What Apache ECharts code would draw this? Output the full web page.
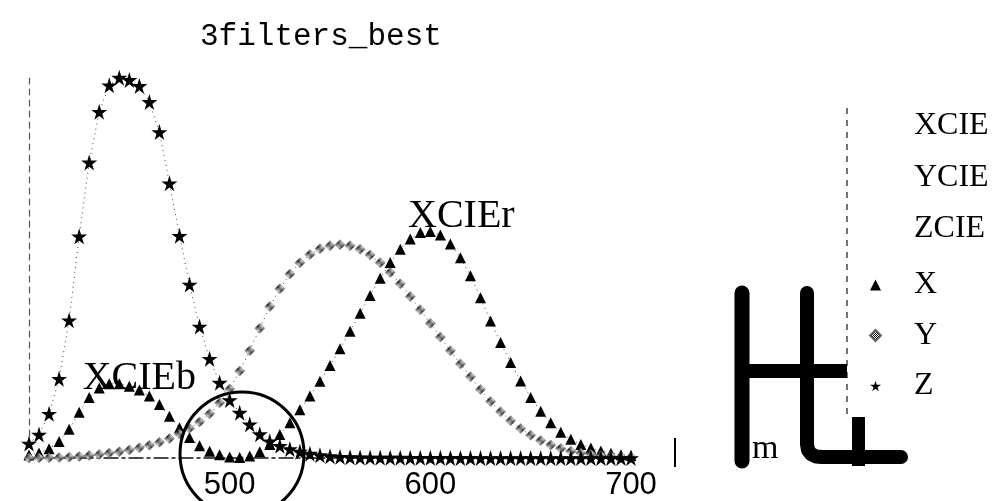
<!DOCTYPE html>
<html>
<head>
<meta charset="utf-8">
<script src="https://cdn.jsdelivr.net/npm/echarts@6/dist/echarts.min.js"></script>
<style>
  html, body { margin: 0; padding: 0; background: #fff; }
  #chart { width: 993px; height: 501px; }
</style>
</head>
<body>
<div id="chart"></div>
<script>
// Wavelengths (nm), 5 nm steps
const wavelengths = [
  400, 405, 410, 415, 420, 425, 430, 435, 440, 445,
  450, 455, 460, 465, 470, 475, 480, 485, 490, 495,
  500, 505, 510, 515, 520, 525, 530, 535, 540, 545,
  550, 555, 560, 565, 570, 575, 580, 585, 590, 595,
  600, 605, 610, 615, 620, 625, 630, 635, 640, 645,
  650, 655, 660, 665, 670, 675, 680, 685, 690, 695, 700
];

// Colour matching functions
const xValues = [
  0.0143, 0.0232, 0.0435, 0.0776, 0.1344, 0.2148, 0.2839, 0.3285, 0.3483, 0.3481,
  0.3362, 0.3187, 0.2908, 0.2511, 0.1954, 0.1421, 0.0956, 0.0580, 0.0320, 0.0147,
  0.0049, 0.0024, 0.0093, 0.0291, 0.0633, 0.1096, 0.1655, 0.2258, 0.2904, 0.3597,
  0.4335, 0.5121, 0.5945, 0.6784, 0.7621, 0.8425, 0.9163, 0.9786, 1.0263, 1.0567,
  1.0622, 1.0456, 1.0026, 0.9384, 0.8545, 0.7514, 0.6424, 0.5419, 0.4479, 0.3608,
  0.2835, 0.2187, 0.1649, 0.1212, 0.0874, 0.0636, 0.0468, 0.0329, 0.0227, 0.0158, 0.0114
];
const yValues = [
  0.0004, 0.0006, 0.0012, 0.0022, 0.0040, 0.0073, 0.0116, 0.0168, 0.0230, 0.0298,
  0.0380, 0.0480, 0.0600, 0.0739, 0.0910, 0.1126, 0.1390, 0.1693, 0.2080, 0.2586,
  0.3230, 0.4073, 0.5030, 0.6082, 0.7100, 0.7932, 0.8620, 0.9149, 0.9540, 0.9803,
  0.9950, 1.0000, 0.9950, 0.9786, 0.9520, 0.9154, 0.8700, 0.8163, 0.7570, 0.6949,
  0.6310, 0.5668, 0.5030, 0.4412, 0.3810, 0.3210, 0.2650, 0.2170, 0.1750, 0.1382,
  0.1070, 0.0816, 0.0610, 0.0446, 0.0320, 0.0232, 0.0170, 0.0119, 0.0082, 0.0057, 0.0041
];
const zValues = [
  0.0679, 0.1102, 0.2074, 0.3713, 0.6456, 1.0391, 1.3856, 1.6230, 1.7471, 1.7826,
  1.7721, 1.7441, 1.6692, 1.5281, 1.2876, 1.0419, 0.8130, 0.6162, 0.4652, 0.3533,
  0.2720, 0.2123, 0.1582, 0.1117, 0.0782, 0.0573, 0.0422, 0.0298, 0.0203, 0.0134,
  0.0087, 0.0057, 0.0039, 0.0028, 0.0021, 0.0018, 0.0017, 0.0014, 0.0011, 0.0010,
  0.0008, 0.0006, 0.0003, 0.0002, 0.0002, 0.0001, 0.0001, 0.0000, 0.0000, 0.0000,
  0.0000, 0.0000, 0.0000, 0.0000, 0.0000, 0.0000, 0.0000, 0.0000, 0.0000, 0.0000, 0.0000
];

const curveNames = ['XCIE', 'YCIE', 'ZCIE'];
const markerNames = ['X', 'Y', 'Z'];
const xTicks = [500, 600, 700];
const chartTitle = '3filters_best';
const lobeLabels = [
  { text: 'XCIEb', wl: 445 },
  { text: 'XCIEr', wl: 600 }
];

const SERIF = '"Liberation Serif", "DejaVu Serif", serif';
const STAR = 'path://M50,0 L61,35 L98,35 L68,57 L79,91 L50,70 L21,91 L32,57 L2,35 L39,35 Z';

// 1-px checker used as a dithered grey fill for the Y markers
const dots = document.createElement('canvas');
dots.width = 2; dots.height = 2;
const g = dots.getContext('2d');
g.fillStyle = '#fff'; g.fillRect(0, 0, 2, 2);
g.fillStyle = '#000'; g.fillRect(0, 0, 1, 1); g.fillRect(1, 1, 1, 1);
const ditherFill = { image: dots, repeat: 'repeat' };

const pairs = vals => wavelengths.map((w, i) => [w, vals[i]]);
const valueAt = (vals, wl) => vals[wavelengths.indexOf(wl)];

const curveData = [xValues, yValues, zValues];

const curveSeries = curveNames.map((name, k) => ({
  name, type: 'line', data: pairs(curveData[k]),
  symbol: 'none', silent: true, z: 2,
  lineStyle: { color: '#444', width: 1, type: [1, 4] }
}));

const markerStyles = [
  { symbol: 'triangle', symbolSize: 11, color: '#000', border: 0 },
  { symbol: 'diamond', symbolSize: 10, color: ditherFill, border: 0.5 },
  { symbol: STAR, symbolSize: 16, color: '#000', border: 0 }
];

const markerSeries = markerNames.map((name, k) => {
  const st = markerStyles[k];
  const s = {
    name, type: 'scatter', data: pairs(curveData[k]),
    symbol: st.symbol, symbolSize: st.symbolSize,
    itemStyle: { color: st.color, opacity: 1, borderColor: '#666', borderWidth: st.border }, z: 3
  };
  if (name === 'X') {
    const offsets = [[20, -5], [31, -15]];
    s.markPoint = {
      symbol: 'circle', symbolSize: 1, itemStyle: { color: 'rgba(0,0,0,0)' },
      data: lobeLabels.map((l, i) => ({
        coord: [l.wl, valueAt(xValues, l.wl)],
        label: {
          show: true, position: 'inside', offset: offsets[i],
          formatter: l.text, fontFamily: SERIF, fontSize: 40, color: '#000'
        }
      }))
    };
  }
  return s;
});

const chart = echarts.init(document.getElementById('chart'), null, { renderer: 'canvas' });

chart.setOption({
  backgroundColor: '#fff',
  animation: false,
  title: {
    text: chartTitle, left: 195, top: 16,
    textStyle: { fontFamily: '"Liberation Mono", monospace', fontSize: 31, fontWeight: 'normal', color: '#000' }
  },
  legend: [
    {
      data: curveNames, orient: 'vertical', left: 883, top: 110, padding: 0,
      itemWidth: 25, itemHeight: 14, itemGap: 19.5,
      itemStyle: { opacity: 0 }, lineStyle: { opacity: 0 },
      textStyle: { fontFamily: SERIF, fontSize: 32, lineHeight: 32, color: '#000' }
    },
    {
      data: markerNames, orient: 'vertical', left: 869, top: 269, padding: 0,
      itemWidth: 11, itemHeight: 11, itemGap: 18.5, symbolKeepAspect: true,
      textStyle: { fontFamily: SERIF, fontSize: 32, lineHeight: 32, color: '#000', padding: [0, 0, 0, 28] }
    }
  ],
  grid: { left: 29, right: 362, top: 74, bottom: 42, containLabel: false },
  xAxis: {
    type: 'value', min: 400, max: 700, interval: 100,
    axisLine: { show: true, lineStyle: { color: '#111', width: 1.5, type: [14, 4, 3, 4] } },
    axisTick: { show: false },
    splitLine: { show: false },
    axisLabel: {
      showMinLabel: false, margin: 12,
      formatter: v => (xTicks.indexOf(v) >= 0 ? String(v) : ''),
      fontFamily: '"Liberation Sans", sans-serif', fontSize: 31, color: '#000'
    }
  },
  yAxis: {
    type: 'value', min: 0, max: 1.8,
    axisLine: { show: true, lineStyle: { color: '#555', width: 1.2, type: [6, 5] } },
    axisTick: { show: false },
    axisLabel: { show: false },
    splitLine: { show: false }
  },
  series: [...curveSeries, ...markerSeries],
  graphic: [
    // pen circle drawn over the 500 nm region
    { type: 'circle', shape: { cx: 242, cy: 454, r: 62 }, style: { fill: null, stroke: '#000', lineWidth: 3 }, z: 50 },
    // visible tail of the unit text beside the pen strokes
    { type: 'text', x: 752, y: 466, style: { text: 'm', font: '34px ' + SERIF, fill: '#000', align: 'left', verticalAlign: 'bottom' }, z: 40 },
    // dashed frame edge beside the legend
    { type: 'line', shape: { x1: 847, y1: 108, x2: 847, y2: 418 }, style: { stroke: '#444', lineWidth: 1.5, lineDash: [6, 6] }, z: 40 },
    // thick pen strokes
    { type: 'line', shape: { x1: 742, y1: 293, x2: 742, y2: 461 }, style: { stroke: '#000', lineWidth: 15, lineCap: 'round' }, z: 50 },
    { type: 'polyline', shape: { points: [[807, 293], [807, 444], [808, 450], [811, 454], [816, 456.5], [822, 457], [901, 457]] }, style: { fill: null, stroke: '#000', lineWidth: 14, lineCap: 'round', lineJoin: 'round' }, z: 50 },
    { type: 'rect', shape: { x: 742, y: 364, width: 105, height: 14 }, style: { fill: '#000' }, z: 50 },
    { type: 'rect', shape: { x: 852, y: 417, width: 13, height: 49 }, style: { fill: '#000' }, z: 50 },
    { type: 'line', shape: { x1: 675, y1: 438, x2: 675, y2: 467 }, style: { stroke: '#000', lineWidth: 2 }, z: 40 }
  ]
});
</script>
</body>
</html>
